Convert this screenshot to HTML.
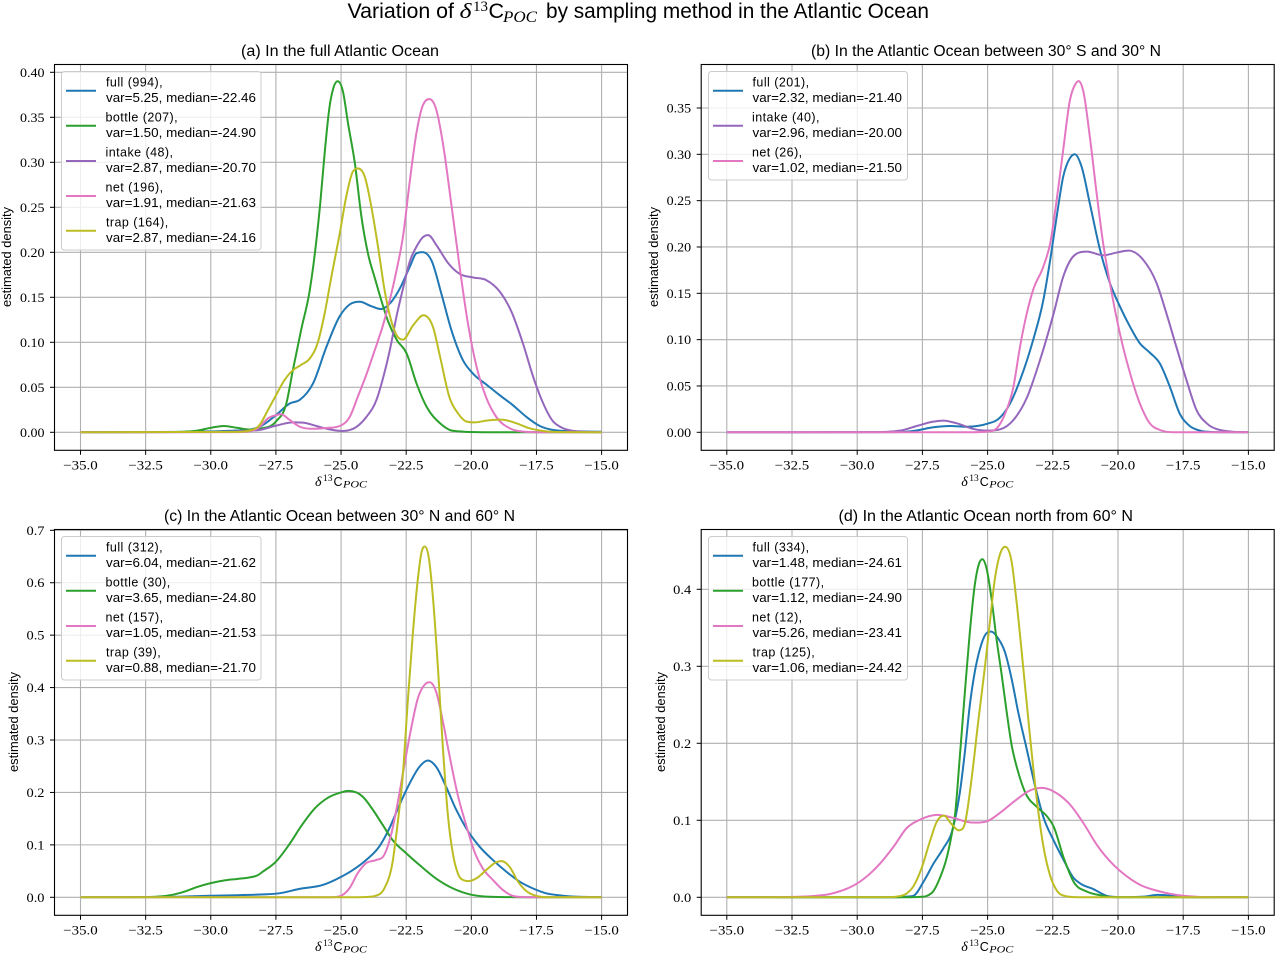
<!DOCTYPE html>
<html>
<head>
<meta charset="utf-8">
<title>Variation of δ13C POC by sampling method in the Atlantic Ocean</title>
<style>
html,body{margin:0;padding:0;background:#fff;}
svg{display:block;}
.sans{font-family:"Liberation Sans",sans-serif;fill:#000;}
.serif{font-family:"Liberation Serif",serif;fill:#000;}
.ital{font-family:"Liberation Serif",serif;font-style:italic;fill:#000;}
.legend-box{fill:#fff;fill-opacity:.8;stroke:#cccccc;stroke-width:1;}
.lt{font-family:"Liberation Sans",sans-serif;font-size:12.5px;fill:#000;}
.lh{font-family:"Liberation Sans",sans-serif;font-size:12.5px;fill:#000;letter-spacing:.45px;}
</style>
</head>
<body>
<svg id="fig" xmlns="http://www.w3.org/2000/svg" width="1276" height="953" viewBox="0 0 1276 953">
  <rect x="0" y="0" width="1276" height="953" fill="#fff"/>

  <text class="sans" font-size="21.5" y="18"><tspan x="347.5" textLength="106.5" lengthAdjust="spacingAndGlyphs">Variation of</tspan><tspan x="459.5" class="ital" font-size="21" textLength="12" lengthAdjust="spacingAndGlyphs">δ</tspan><tspan x="473" y="11" class="serif" font-size="14.5" textLength="15" lengthAdjust="spacingAndGlyphs">13</tspan><tspan x="488.5" y="18">C</tspan><tspan x="503" y="22" class="ital" font-size="15.5" textLength="34" lengthAdjust="spacingAndGlyphs">POC</tspan><tspan x="546" y="18" textLength="383" lengthAdjust="spacingAndGlyphs">by sampling method in the Atlantic Ocean</tspan></text>

  <text class="sans" font-size="15.5" x="241" y="56" textLength="198" lengthAdjust="spacingAndGlyphs">(a) In the full Atlantic Ocean</text>
  <text class="sans" font-size="15.5" x="811" y="56" textLength="350" lengthAdjust="spacingAndGlyphs">(b) In the Atlantic Ocean between 30° S and 30° N</text>
  <text class="sans" font-size="15.5" x="164" y="521" textLength="351" lengthAdjust="spacingAndGlyphs">(c) In the Atlantic Ocean between 30° N and 60° N</text>
  <text class="sans" font-size="15.5" x="838.5" y="521" textLength="294.5" lengthAdjust="spacingAndGlyphs">(d) In the Atlantic Ocean north from 60° N</text>

  <g id="plots"></g>

  <text class="sans" font-size="12.5" text-anchor="middle" transform="translate(11,257) rotate(-90)" textLength="100" lengthAdjust="spacingAndGlyphs">estimated density</text>
  <text class="sans" font-size="12.5" text-anchor="middle" transform="translate(658,257) rotate(-90)" textLength="100" lengthAdjust="spacingAndGlyphs">estimated density</text>
  <text class="sans" font-size="12.5" text-anchor="middle" transform="translate(18,722) rotate(-90)" textLength="100" lengthAdjust="spacingAndGlyphs">estimated density</text>
  <text class="sans" font-size="12.5" text-anchor="middle" transform="translate(665,722) rotate(-90)" textLength="100" lengthAdjust="spacingAndGlyphs">estimated density</text>

  <g transform="translate(0,0)"><text class="ital" font-size="14" x="315" y="486">δ<tspan x="323" y="481" class="serif" font-size="9" font-style="normal" textLength="9.5" lengthAdjust="spacingAndGlyphs">13</tspan><tspan x="333.5" y="486" class="sans" font-size="12.5" font-style="normal">C</tspan><tspan x="343" y="487.5" font-size="9.5" textLength="24" lengthAdjust="spacingAndGlyphs">POC</tspan></text></g>
  <g transform="translate(646.3,0)"><text class="ital" font-size="14" x="315" y="486">δ<tspan x="323" y="481" class="serif" font-size="9" font-style="normal" textLength="9.5" lengthAdjust="spacingAndGlyphs">13</tspan><tspan x="333.5" y="486" class="sans" font-size="12.5" font-style="normal">C</tspan><tspan x="343" y="487.5" font-size="9.5" textLength="24" lengthAdjust="spacingAndGlyphs">POC</tspan></text></g>
  <g transform="translate(0,465)"><text class="ital" font-size="14" x="315" y="486">δ<tspan x="323" y="481" class="serif" font-size="9" font-style="normal" textLength="9.5" lengthAdjust="spacingAndGlyphs">13</tspan><tspan x="333.5" y="486" class="sans" font-size="12.5" font-style="normal">C</tspan><tspan x="343" y="487.5" font-size="9.5" textLength="24" lengthAdjust="spacingAndGlyphs">POC</tspan></text></g>
  <g transform="translate(646.3,465)"><text class="ital" font-size="14" x="315" y="486">δ<tspan x="323" y="481" class="serif" font-size="9" font-style="normal" textLength="9.5" lengthAdjust="spacingAndGlyphs">13</tspan><tspan x="333.5" y="486" class="sans" font-size="12.5" font-style="normal">C</tspan><tspan x="343" y="487.5" font-size="9.5" textLength="24" lengthAdjust="spacingAndGlyphs">POC</tspan></text></g>

  <g>
    <rect class="legend-box" x="61.5" y="71.5" width="199.5" height="178.5" rx="3"/>
    <g><line x1="66" x2="96" y1="90.7" y2="90.7" stroke="#1f77b4" stroke-width="2"/><text class="lh" x="106" y="86.5">full (994),</text><text class="lt" x="106" y="102" textLength="150" lengthAdjust="spacingAndGlyphs">var=5.25, median=-22.46</text></g>
    <g><line x1="66" x2="96" y1="125.7" y2="125.7" stroke="#2ca02c" stroke-width="2"/><text class="lh" x="105.5" y="121.5">bottle (207),</text><text class="lt" x="106" y="137" textLength="150" lengthAdjust="spacingAndGlyphs">var=1.50, median=-24.90</text></g>
    <g><line x1="66" x2="96" y1="161" y2="161" stroke="#9467bd" stroke-width="2"/><text class="lh" x="105.5" y="156.5">intake (48),</text><text class="lt" x="106" y="172" textLength="150" lengthAdjust="spacingAndGlyphs">var=2.87, median=-20.70</text></g>
    <g><line x1="66" x2="96" y1="196" y2="196" stroke="#e377c2" stroke-width="2"/><text class="lh" x="105.5" y="191.5">net (196),</text><text class="lt" x="106" y="207" textLength="150" lengthAdjust="spacingAndGlyphs">var=1.91, median=-21.63</text></g>
    <g><line x1="66" x2="96" y1="230.7" y2="230.7" stroke="#bcbd22" stroke-width="2"/><text class="lh" x="106" y="226.5">trap (164),</text><text class="lt" x="106" y="242" textLength="150" lengthAdjust="spacingAndGlyphs">var=2.87, median=-24.16</text></g>
  </g>

  <g>
    <rect class="legend-box" x="708.5" y="71.5" width="199" height="108.5" rx="3"/>
    <g><line x1="713" x2="743" y1="90.7" y2="90.7" stroke="#1f77b4" stroke-width="2"/><text class="lh" x="752.5" y="86.5">full (201),</text><text class="lt" x="752.5" y="102" textLength="149.5" lengthAdjust="spacingAndGlyphs">var=2.32, median=-21.40</text></g>
    <g><line x1="713" x2="743" y1="125.7" y2="125.7" stroke="#9467bd" stroke-width="2"/><text class="lh" x="752" y="121.5">intake (40),</text><text class="lt" x="752.5" y="137" textLength="149.5" lengthAdjust="spacingAndGlyphs">var=2.96, median=-20.00</text></g>
    <g><line x1="713" x2="743" y1="161" y2="161" stroke="#e377c2" stroke-width="2"/><text class="lh" x="752" y="156.5">net (26),</text><text class="lt" x="752.5" y="172" textLength="149.5" lengthAdjust="spacingAndGlyphs">var=1.02, median=-21.50</text></g>
  </g>

  <g>
    <rect class="legend-box" x="61.5" y="536.5" width="199.5" height="143.5" rx="3"/>
    <g><line x1="66" x2="96" y1="555.7" y2="555.7" stroke="#1f77b4" stroke-width="2"/><text class="lh" x="106" y="551.5">full (312),</text><text class="lt" x="106" y="567" textLength="150" lengthAdjust="spacingAndGlyphs">var=6.04, median=-21.62</text></g>
    <g><line x1="66" x2="96" y1="590.7" y2="590.7" stroke="#2ca02c" stroke-width="2"/><text class="lh" x="105.5" y="586.5">bottle (30),</text><text class="lt" x="106" y="602" textLength="150" lengthAdjust="spacingAndGlyphs">var=3.65, median=-24.80</text></g>
    <g><line x1="66" x2="96" y1="626" y2="626" stroke="#e377c2" stroke-width="2"/><text class="lh" x="105.5" y="621.5">net (157),</text><text class="lt" x="106" y="637" textLength="150" lengthAdjust="spacingAndGlyphs">var=1.05, median=-21.53</text></g>
    <g><line x1="66" x2="96" y1="660.7" y2="660.7" stroke="#bcbd22" stroke-width="2"/><text class="lh" x="106" y="656.5">trap (39),</text><text class="lt" x="106" y="672" textLength="150" lengthAdjust="spacingAndGlyphs">var=0.88, median=-21.70</text></g>
  </g>

  <g>
    <rect class="legend-box" x="708.5" y="536.5" width="199" height="143.5" rx="3"/>
    <g><line x1="713" x2="743" y1="555.7" y2="555.7" stroke="#1f77b4" stroke-width="2"/><text class="lh" x="752.5" y="551.5">full (334),</text><text class="lt" x="752.5" y="567" textLength="149.5" lengthAdjust="spacingAndGlyphs">var=1.48, median=-24.61</text></g>
    <g><line x1="713" x2="743" y1="590.7" y2="590.7" stroke="#2ca02c" stroke-width="2"/><text class="lh" x="752" y="586.5">bottle (177),</text><text class="lt" x="752.5" y="602" textLength="149.5" lengthAdjust="spacingAndGlyphs">var=1.12, median=-24.90</text></g>
    <g><line x1="713" x2="743" y1="626" y2="626" stroke="#e377c2" stroke-width="2"/><text class="lh" x="752" y="621.5">net (12),</text><text class="lt" x="752.5" y="637" textLength="149.5" lengthAdjust="spacingAndGlyphs">var=5.26, median=-23.41</text></g>
    <g><line x1="713" x2="743" y1="660.7" y2="660.7" stroke="#bcbd22" stroke-width="2"/><text class="lh" x="752.5" y="656.5">trap (125),</text><text class="lt" x="752.5" y="672" textLength="149.5" lengthAdjust="spacingAndGlyphs">var=1.06, median=-24.42</text></g>
  </g>
</svg>

<script>
// x tick values and labels
const xTickValues = [-35, -32.5, -30, -27.5, -25, -22.5, -20, -17.5, -15];
const xTickLabels = ['−35.0', '−32.5', '−30.0', '−27.5', '−25.0', '−22.5', '−20.0', '−17.5', '−15.0'];
const yTicksAB = [0, 0.05, 0.10, 0.15, 0.20, 0.25, 0.30, 0.35, 0.40];
const yTickLabelsA = ['0.00', '0.05', '0.10', '0.15', '0.20', '0.25', '0.30', '0.35', '0.40'];
const yTicksB = [0, 0.05, 0.10, 0.15, 0.20, 0.25, 0.30, 0.35];
const yTickLabelsB = ['0.00', '0.05', '0.10', '0.15', '0.20', '0.25', '0.30', '0.35'];
const yTicksC = [0, 0.1, 0.2, 0.3, 0.4, 0.5, 0.6, 0.7];
const yTickLabelsC = ['0.0', '0.1', '0.2', '0.3', '0.4', '0.5', '0.6', '0.7'];
const yTicksD = [0, 0.1, 0.2, 0.3, 0.4];
const yTickLabelsD = ['0.0', '0.1', '0.2', '0.3', '0.4'];

// Panel (a)
const aFullX = [-35,-31,-30,-29,-28.5,-28.13,-27.5,-26.97,-26.59,-26.08,-25.56,-25.05,-24.67,-24.28,-23.83,-23.45,-23.07,-22.74,-22.36,-22.1,-21.82,-21.53,-21.15,-20.77,-20.32,-19.93,-19.42,-18.9,-18.4,-17.88,-17.37,-16.86,-16,-15];
const aFullY = [0,0.0005,0.001,0.002,0.003,0.006,0.019,0.032,0.036,0.054,0.095,0.129,0.142,0.145,0.14,0.137,0.145,0.16,0.184,0.199,0.2,0.191,0.154,0.114,0.08,0.065,0.053,0.041,0.03,0.017,0.007,0.0026,0.0012,0.0006];
const aBottleX = [-35,-31.5,-30.5,-30,-29.5,-29,-28.5,-28.13,-27.5,-27.1,-26.85,-26.53,-26.2,-26,-25.8,-25.63,-25.44,-25.3,-25.13,-24.93,-24.73,-24.47,-24.22,-23.97,-23.7,-23.5,-23.19,-22.87,-22.49,-22.1,-21.72,-21.2,-20.83,-20.45,-19.5,-15];
const aBottleY = [0,0.0003,0.002,0.005,0.007,0.005,0.003,0.004,0.012,0.032,0.069,0.114,0.158,0.2,0.254,0.31,0.362,0.382,0.39,0.379,0.343,0.299,0.24,0.199,0.171,0.151,0.123,0.103,0.088,0.054,0.0285,0.01,0.0026,0.001,0.0001,0];
const aIntakeX = [-35,-30,-29,-28.5,-28.13,-27.5,-26.85,-26.46,-25.95,-25.44,-24.92,-24.41,-24.03,-23.64,-23.39,-23.13,-22.87,-22.62,-22.36,-22.11,-21.85,-21.64,-21.34,-20.89,-20.45,-19.93,-19.42,-18.9,-18.46,-18,-17.63,-17.24,-16.86,-16.6,-16,-15];
const aIntakeY = [0,0.0003,0.001,0.002,0.0026,0.0074,0.011,0.0107,0.007,0.0033,0.0015,0.006,0.017,0.036,0.06,0.091,0.129,0.16,0.19,0.206,0.217,0.219,0.208,0.188,0.176,0.172,0.169,0.156,0.134,0.097,0.062,0.032,0.012,0.0063,0.0012,0.0002];
const aNetX = [-35,-29,-28.5,-28.13,-27.8,-27.5,-27.3,-26.97,-26.59,-26.2,-25.57,-25.05,-24.67,-24.35,-24.03,-23.71,-23.39,-23.07,-22.87,-22.62,-22.37,-22.11,-21.85,-21.57,-21.34,-21.09,-20.77,-20.45,-20.13,-19.8,-19.42,-19.04,-18.52,-18,-17.5,-15];
const aNetY = [0,0.0002,0.001,0.006,0.0156,0.019,0.02,0.0137,0.0063,0.004,0.0048,0.007,0.017,0.04,0.064,0.091,0.119,0.154,0.18,0.218,0.277,0.332,0.364,0.37,0.358,0.321,0.254,0.184,0.121,0.073,0.038,0.017,0.0044,0.0007,0.0001,0];
const aTrapX = [-35,-29,-28.5,-28.13,-27.8,-27.5,-27.17,-26.85,-26.53,-26.2,-25.89,-25.63,-25.37,-25.05,-24.8,-24.54,-24.31,-24.09,-23.84,-23.58,-23.33,-23.13,-22.87,-22.62,-22.23,-21.82,-21.46,-21.2,-20.83,-20.51,-20.19,-19.87,-19.42,-18.78,-18.27,-17.76,-17.24,-16.5,-15];
const aTrapY = [0,0.0005,0.002,0.008,0.025,0.041,0.058,0.069,0.075,0.082,0.1,0.132,0.173,0.221,0.262,0.29,0.293,0.284,0.251,0.206,0.158,0.13,0.108,0.103,0.119,0.13,0.116,0.084,0.038,0.021,0.012,0.011,0.013,0.014,0.01,0.0044,0.0015,0.0002,0];

// Panel (b)
const bFullX = [-35,-28.5,-27.72,-27.08,-26.44,-25.8,-25.04,-24.52,-24.14,-23.76,-23.25,-22.86,-22.6,-22.35,-22.1,-21.84,-21.64,-21.4,-21.08,-20.69,-20.31,-19.93,-19.54,-19.16,-18.78,-18.39,-18.01,-17.63,-17.25,-16.86,-16.3,-15];
const bFullY = [0,0.0002,0.002,0.0054,0.0068,0.006,0.009,0.016,0.031,0.056,0.1,0.143,0.186,0.233,0.276,0.296,0.3,0.287,0.247,0.197,0.161,0.136,0.114,0.096,0.086,0.074,0.049,0.02,0.0068,0.0018,0.0002,0];
const bIntakeX = [-35,-29.5,-28.36,-27.72,-27.08,-26.7,-26.18,-25.55,-25.04,-24.52,-24.01,-23.5,-22.99,-22.47,-22.1,-21.71,-21.2,-20.57,-20.05,-19.54,-19.03,-18.52,-18.14,-17.76,-17.37,-16.99,-16.6,-16.09,-15];
const bIntakeY = [0,0.0002,0.0018,0.0068,0.0115,0.0126,0.0097,0.0036,0.0018,0.0032,0.0133,0.037,0.078,0.128,0.168,0.19,0.195,0.191,0.194,0.196,0.186,0.161,0.128,0.092,0.056,0.024,0.0097,0.0025,0.0002];
const bNetX = [-35,-25.5,-25.04,-24.65,-24.33,-24.01,-23.76,-23.5,-23.25,-22.86,-22.6,-22.35,-22.1,-21.84,-21.65,-21.5,-21.33,-21.08,-20.82,-20.57,-20.31,-19.93,-19.54,-19.16,-18.78,-18.39,-17.88,-15];
const bNetY = [0,0.0001,0.0007,0.0043,0.02,0.049,0.092,0.128,0.154,0.179,0.204,0.251,0.305,0.359,0.375,0.379,0.368,0.319,0.258,0.204,0.161,0.107,0.064,0.031,0.0097,0.0025,0.0001,0];

// Panel (c)
const cFullX = [-35,-32,-31,-30,-29,-28,-27.37,-26.6,-25.7,-25,-24.55,-24.04,-23.53,-23.14,-22.76,-22.37,-21.99,-21.67,-21.35,-20.97,-20.58,-20.2,-19.69,-19.17,-18.66,-18.15,-17.64,-17.13,-16.6,-16,-15];
const cFullY = [0,0.0003,0.0015,0.003,0.004,0.0055,0.0076,0.016,0.0235,0.039,0.052,0.071,0.097,0.132,0.176,0.217,0.249,0.261,0.249,0.211,0.167,0.132,0.097,0.071,0.049,0.03,0.017,0.0076,0.0038,0.0013,0.0006];
const cBottleX = [-35,-32.5,-32,-31.5,-31,-30.5,-30,-29.5,-29,-28.5,-28.2,-28,-27.5,-27,-26.5,-26,-25.5,-25,-24.72,-24.17,-23.78,-23.4,-23.02,-22.5,-22,-21.36,-20.71,-20.07,-19.43,-18.5,-17.5,-15];
const cBottleY = [0,0.0005,0.0015,0.0045,0.011,0.02,0.027,0.032,0.035,0.038,0.042,0.049,0.068,0.1,0.138,0.17,0.19,0.2,0.203,0.192,0.167,0.138,0.109,0.084,0.062,0.036,0.017,0.0057,0.0013,0.0003,0,0];
const cNetX = [-35,-25.6,-25.2,-24.94,-24.68,-24.36,-24.04,-23.66,-23.34,-23.08,-22.82,-22.57,-22.31,-22.05,-21.8,-21.58,-21.35,-21.09,-20.84,-20.52,-20.2,-19.88,-19.56,-19.17,-18.79,-18.4,-18.02,-17.5,-15];
const cNetY = [0,0.0001,0.0006,0.0045,0.017,0.046,0.065,0.071,0.081,0.119,0.182,0.252,0.322,0.38,0.405,0.41,0.392,0.335,0.271,0.195,0.138,0.087,0.055,0.033,0.014,0.0025,0.0006,0,0];
const cTrapX = [-35,-24.6,-24.04,-23.66,-23.34,-23.02,-22.82,-22.63,-22.44,-22.25,-22.05,-21.92,-21.78,-21.63,-21.47,-21.28,-21.09,-20.9,-20.7,-20.52,-20.26,-20.07,-19.81,-19.43,-19.04,-18.82,-18.53,-18.21,-17.89,-17.5,-17,-15];
const cTrapY = [0,0.0001,0.0006,0.003,0.017,0.068,0.144,0.233,0.373,0.5,0.608,0.656,0.669,0.647,0.57,0.437,0.284,0.157,0.081,0.046,0.032,0.031,0.036,0.052,0.067,0.069,0.058,0.03,0.012,0.0025,0.0001,0];

// Panel (d)
const dFullX = [-35,-28.6,-28.1,-27.84,-27.46,-27.07,-26.69,-26.37,-26.18,-26.06,-25.87,-25.68,-25.49,-25.29,-25.04,-24.85,-24.59,-24.34,-24.08,-23.83,-23.51,-23.19,-22.85,-22.47,-22.08,-21.7,-21.45,-20.93,-20.42,-20,-19,-18.5,-18,-17.5,-17,-15];
const dFullY = [0,0.0001,0.0009,0.002,0.02,0.044,0.064,0.085,0.113,0.137,0.189,0.25,0.293,0.323,0.343,0.345,0.336,0.319,0.284,0.241,0.194,0.146,0.103,0.074,0.048,0.025,0.018,0.0104,0.0017,0.0003,0.0008,0.0032,0.0022,0.0005,0.0001,0];
const dBottleX = [-35,-28,-27.6,-27.34,-27.08,-26.83,-26.57,-26.38,-26.25,-26.06,-25.87,-25.68,-25.49,-25.32,-25.19,-25.04,-24.85,-24.66,-24.46,-24.27,-24.08,-23.83,-23.57,-23.1,-22.72,-22.47,-22.08,-21.7,-21.19,-20.68,-20.2,-19,-15];
const dBottleY = [0,0.0001,0.0005,0.0017,0.008,0.025,0.051,0.081,0.107,0.185,0.267,0.345,0.406,0.434,0.439,0.427,0.388,0.336,0.289,0.241,0.198,0.163,0.137,0.117,0.105,0.092,0.051,0.02,0.0074,0.0026,0.0002,0,0];
const dNetX = [-35,-33,-32.5,-31.67,-31.04,-30.52,-30,-29.5,-29.12,-28.6,-28.1,-27.58,-26.94,-26.3,-25.8,-25.41,-25,-24.51,-24,-23.36,-22.85,-22.34,-21.83,-21.32,-20.81,-20.17,-19.65,-19.14,-18.5,-18,-17.5,-17,-16.5,-16,-15];
const dNetY = [0,0.0002,0.0005,0.0017,0.0043,0.0095,0.018,0.031,0.044,0.066,0.09,0.101,0.107,0.103,0.098,0.097,0.099,0.11,0.124,0.139,0.142,0.135,0.12,0.096,0.068,0.042,0.027,0.016,0.0085,0.0045,0.002,0.0007,0.0002,0,0];
const dTrapX = [-35,-28.8,-28.49,-28.1,-27.85,-27.53,-27.2,-26.95,-26.67,-26.38,-26.09,-25.87,-25.61,-25.36,-25.1,-24.91,-24.72,-24.53,-24.3,-24.08,-23.89,-23.63,-23.38,-23.12,-22.87,-22.61,-22.36,-22.04,-21.5,-15];
const dTrapY = [0,0.0002,0.0009,0.005,0.014,0.038,0.074,0.098,0.106,0.095,0.087,0.096,0.155,0.228,0.3,0.358,0.414,0.445,0.455,0.436,0.384,0.297,0.211,0.129,0.068,0.029,0.0095,0.0017,0.0001,0];

const NS = 'http://www.w3.org/2000/svg';
const COLORS = {full: '#1f77b4', bottle: '#2ca02c', intake: '#9467bd', net: '#e377c2', trap: '#bcbd22'};

const panels = [
  {id: 'a', left: 54.5, right: 627.5, top: 64.5, bottom: 450.3, x35: 80.5, x15: 601.6, y0: 432.3, yRefV: 0.40, yRefP: 72.3,
   yTicks: yTicksAB, yLabels: yTickLabelsA,
   series: [['full', aFullX, aFullY], ['bottle', aBottleX, aBottleY], ['intake', aIntakeX, aIntakeY], ['net', aNetX, aNetY], ['trap', aTrapX, aTrapY]]},
  {id: 'b', left: 701.2, right: 1274.2, top: 64.5, bottom: 450.3, x35: 726.8, x15: 1248.4, y0: 432.3, yRefV: 0.35, yRefP: 108, 
   yTicks: yTicksB, yLabels: yTickLabelsB,
   series: [['full', bFullX, bFullY], ['intake', bIntakeX, bIntakeY], ['net', bNetX, bNetY]]},
  {id: 'c', left: 54.5, right: 627.5, top: 529.5, bottom: 915.3, x35: 80.5, x15: 601.6, y0: 897.3, yRefV: 0.7, yRefP: 530.3,
   yTicks: yTicksC, yLabels: yTickLabelsC,
   series: [['full', cFullX, cFullY], ['bottle', cBottleX, cBottleY], ['net', cNetX, cNetY], ['trap', cTrapX, cTrapY]]},
  {id: 'd', left: 701.2, right: 1274.2, top: 529.5, bottom: 915.3, x35: 726.8, x15: 1248.4, y0: 897.3, yRefV: 0.4, yRefP: 589.3,
   yTicks: yTicksD, yLabels: yTickLabelsD,
   series: [['full', dFullX, dFullY], ['bottle', dBottleX, dBottleY], ['net', dNetX, dNetY], ['trap', dTrapX, dTrapY]]}
];

function make(tag, attrs, parent) {
  const el = document.createElementNS(NS, tag);
  for (const k in attrs) el.setAttribute(k, attrs[k]);
  parent.appendChild(el);
  return el;
}

// Three-point (non-uniform Catmull-Rom) slopes, limited so curves stay smooth and never dip below baseline.
function slopes(xs, ys) {
  const n = xs.length, d = [], m = new Array(n).fill(0);
  for (let i = 0; i < n - 1; i++) d.push((ys[i + 1] - ys[i]) / (xs[i + 1] - xs[i]));
  for (let i = 1; i < n - 1; i++) {
    const h0 = xs[i] - xs[i - 1], h1 = xs[i + 1] - xs[i];
    const c = (d[i - 1] * h1 + d[i] * h0) / (h0 + h1);
    if (d[i - 1] === 0 || d[i] === 0) { m[i] = 0; continue; }
    if (d[i - 1] * d[i] > 0) {
      const lim = 3 * Math.min(Math.abs(d[i - 1]), Math.abs(d[i]));
      m[i] = Math.sign(c) * Math.min(Math.abs(c), lim);
    } else {
      m[i] = c * 0.5;
    }
  }
  return m;
}

function curvePath(xs, ys, sx, sy) {
  const m = slopes(xs, ys);
  let p = 'M' + sx(xs[0]).toFixed(2) + ' ' + sy(ys[0]).toFixed(2);
  for (let i = 0; i < xs.length - 1; i++) {
    const h = xs[i + 1] - xs[i];
    const c1x = xs[i] + h / 3, c1y = ys[i] + m[i] * h / 3;
    const c2x = xs[i + 1] - h / 3, c2y = ys[i + 1] - m[i + 1] * h / 3;
    p += 'C' + sx(c1x).toFixed(2) + ' ' + sy(c1y).toFixed(2) + ' ' + sx(c2x).toFixed(2) + ' ' + sy(c2y).toFixed(2) + ' ' + sx(xs[i + 1]).toFixed(2) + ' ' + sy(ys[i + 1]).toFixed(2);
  }
  return p;
}

const root = document.getElementById('plots');
panels.forEach(function (pn) {
  const sx = function (v) { return pn.x35 + (v + 35) * (pn.x15 - pn.x35) / 20; };
  const sy = function (v) { return pn.y0 + v * (pn.yRefP - pn.y0) / pn.yRefV; };
  const g = make('g', {}, root);
  
  

  const bg = make('rect', {x: pn.left, y: pn.top, width: pn.right - pn.left, height: pn.bottom - pn.top, fill: '#fff'}, g);
  
  

  xTickValues.forEach(function (v, i) {
    const x = sx(v);
    const gl = make('line', {x1: x, x2: x, y1: pn.top, y2: pn.bottom, stroke: '#b0b0b0', 'stroke-width': 1.1}, g);
    
    
    const tk = make('line', {x1: x, x2: x, y1: pn.bottom, y2: pn.bottom + 4.5, stroke: '#000', 'stroke-width': 1}, g);
    
    
    const t = make('text', {x: x, y: pn.bottom + 19.3, 'text-anchor': 'middle', 'class': 'serif', 'font-size': 13, textLength: 34.5, lengthAdjust: 'spacingAndGlyphs'}, g);
    
    
    t.textContent = xTickLabels[i];
  });

  pn.yTicks.forEach(function (v, i) {
    const y = sy(v);
    const gl = make('line', {x1: pn.left, x2: pn.right, y1: y, y2: y, stroke: '#b0b0b0', 'stroke-width': 1.1}, g);
    
    
    const tk = make('line', {x1: pn.left - 4.5, x2: pn.left, y1: y, y2: y, stroke: '#000', 'stroke-width': 1}, g);
    
    
    const w = pn.yLabels[i].length === 4 ? 24.5 : 18;
    const t = make('text', {x: pn.left - 10 - w, y: y + 4.5, 'class': 'serif', 'font-size': 13, textLength: w, lengthAdjust: 'spacingAndGlyphs'}, g);
    
    
    t.textContent = pn.yLabels[i];
  });

  pn.series.forEach(function (s) {
    const path = make('path', {d: curvePath(s[1], s[2], sx, sy), fill: 'none', stroke: COLORS[s[0]], 'stroke-width': 2, 'stroke-linejoin': 'round'}, g);
    
    
  });

  const sp = make('rect', {x: pn.left, y: pn.top, width: pn.right - pn.left, height: pn.bottom - pn.top, fill: 'none', stroke: '#000', 'stroke-width': 1.1}, g);
  
  
});
</script>
</body>
</html>
